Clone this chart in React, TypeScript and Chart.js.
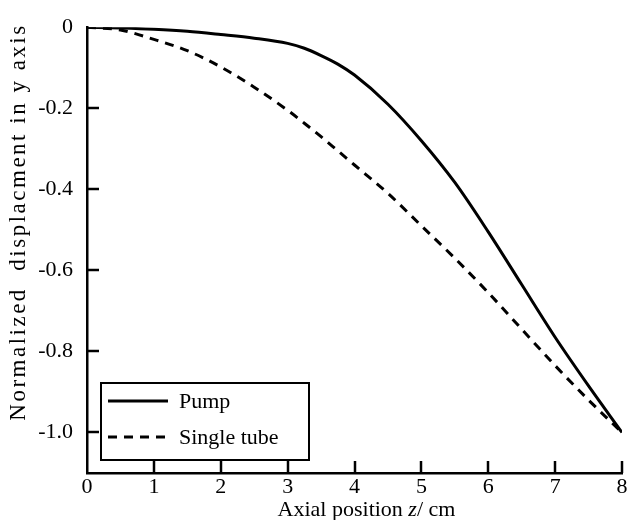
import React, { useEffect, useRef } from "react";
import { Chart, registerables } from "chart.js";

Chart.register(...registerables);

const zPositions = [0, 0.5, 1, 1.5, 2, 2.5, 3, 3.25, 3.5, 3.75, 4, 4.5, 5, 5.5, 6, 6.5, 7, 7.5, 8];
const pumpValues = [0, -0.002, -0.005, -0.01, -0.018, -0.027, -0.04, -0.052, -0.07, -0.091, -0.118, -0.19, -0.28, -0.383, -0.505, -0.635, -0.765, -0.885, -1.0];
const singleTubeValues = [0, -0.007, -0.03, -0.058, -0.098, -0.148, -0.205, -0.237, -0.27, -0.305, -0.34, -0.41, -0.49, -0.57, -0.655, -0.745, -0.835, -0.92, -1.0];
const seriesLabels = ["Pump", "Single tube"];
const yTickValues = [0, -0.2, -0.4, -0.6, -0.8, -1.0];
const xTickValues = [0, 1, 2, 3, 4, 5, 6, 7, 8];
const xTitleParts = [
  { text: "Axial position ", italic: false },
  { text: "z", italic: true },
  { text: "/ cm", italic: false },
];
const yTitle = "Normalized  displacment in y axis";

const FONT = "'Liberation Serif', 'Times New Roman', serif";
const FS = 22;

const decorPlugin = {
  id: "decor",
  afterDraw(chart: any) {
    const ctx = chart.ctx;
    const xs = chart.scales.x;
    const ys = chart.scales.y;
    const area = chart.chartArea;
    ctx.save();
    ctx.strokeStyle = "#000";
    ctx.lineWidth = 2.5;
    // inner ticks on y axis
    yTickValues.forEach((v) => {
      if (v === 0) return;
      const py = Math.round(ys.getPixelForValue(v));
      ctx.beginPath();
      ctx.moveTo(area.left, py);
      ctx.lineTo(area.left + 12, py);
      ctx.stroke();
    });
    // inner ticks on x axis
    xTickValues.forEach((v) => {
      if (v === 0) return;
      const px = Math.round(xs.getPixelForValue(v));
      ctx.beginPath();
      ctx.moveTo(px, area.bottom);
      ctx.lineTo(px, area.bottom - 12);
      ctx.stroke();
    });

    // x title with italic z
    ctx.fillStyle = "#000";
    ctx.textBaseline = "alphabetic";
    ctx.textAlign = "left";
    let total = 0;
    const widths = xTitleParts.map((p) => {
      ctx.font = `${p.italic ? "italic " : ""}${FS}px ${FONT}`;
      const w = ctx.measureText(p.text).width;
      total += w;
      return w;
    });
    let x = (area.left + area.right) / 2 + 12 - total / 2;
    const yBase = 516;
    xTitleParts.forEach((p, i) => {
      ctx.font = `${p.italic ? "italic " : ""}${FS}px ${FONT}`;
      ctx.fillText(p.text, x, yBase);
      x += widths[i];
    });

    // y title
    ctx.save();
    ctx.translate(25, 222);
    ctx.rotate(-Math.PI / 2);
    ctx.font = `23px ${FONT}`;
    (ctx as any).letterSpacing = "2.5px";
    ctx.textAlign = "center";
    ctx.textBaseline = "alphabetic";
    ctx.fillText(yTitle, 0, 0);
    ctx.restore();

    // legend
    const bx = 101, by = 383, bw = 208, bh = 77;
    ctx.lineWidth = 2;
    ctx.strokeRect(bx, by, bw, bh);
    const rows = [401, 437];
    chart.data.datasets.forEach((ds: any, i: number) => {
      ctx.beginPath();
      ctx.lineWidth = 3;
      ctx.setLineDash(ds.borderDash || []);
      ctx.moveTo(108, rows[i]);
      ctx.lineTo(168, rows[i]);
      ctx.stroke();
      ctx.setLineDash([]);
      ctx.font = `${FS}px ${FONT}`;
      ctx.textBaseline = "middle";
      ctx.textAlign = "left";
      ctx.fillText(ds.label, 179, rows[i] + 1);
    });
    ctx.restore();
  },
};

export default function App() {
  const canvasRef = useRef<HTMLCanvasElement | null>(null);

  useEffect(() => {
    if (!canvasRef.current) return;
    const chart = new Chart(canvasRef.current, {
      type: "line",
      data: {
        datasets: [
          {
            label: seriesLabels[0],
            data: zPositions.map((z, i) => ({ x: z, y: pumpValues[i] })),
            borderColor: "#000",
            borderWidth: 3,
            pointRadius: 0,
            cubicInterpolationMode: "monotone",
            fill: false,
          },
          {
            label: seriesLabels[1],
            data: zPositions.map((z, i) => ({ x: z, y: singleTubeValues[i] })),
            borderColor: "#000",
            borderWidth: 3,
            borderDash: [9, 7],
            pointRadius: 0,
            cubicInterpolationMode: "monotone",
            fill: false,
          },
        ],
      },
      options: {
        animation: false,
        responsive: false,
        maintainAspectRatio: false,
        layout: { padding: { top: 20, right: 8, left: 0, bottom: 0 } },
        plugins: {
          legend: { display: false },
          tooltip: { enabled: false },
        },
        scales: {
          x: {
            type: "linear",
            min: 0,
            max: 8,
            grid: { display: false, drawTicks: false },
            border: { display: true, color: "#000", width: 2.5 },
            afterBuildTicks: (scale: any) => {
              scale.ticks = xTickValues.map((v) => ({ value: v }));
            },
            afterFit: (scale: any) => {
              scale.height = 47;
            },
            ticks: {
              color: "#000",
              padding: 1,
              font: { family: FONT, size: FS },
              maxRotation: 0,
              autoSkip: false,
              callback: (v: any) => String(v),
            },
          },
          y: {
            type: "linear",
            min: -1.1,
            max: 0,
            grid: { display: false, drawTicks: false },
            border: { display: true, color: "#000", width: 2.5 },
            afterBuildTicks: (scale: any) => {
              scale.ticks = yTickValues.map((v) => ({ value: v }));
            },
            afterFit: (scale: any) => {
              scale.width = 87;
            },
            ticks: {
              color: "#000",
              padding: 14,
              font: { family: FONT, size: FS },
              autoSkip: false,
              callback: (v: any) => (v === 0 ? "0" : Number(v).toFixed(1)),
            },
          },
        },
      },
      plugins: [decorPlugin],
    } as any);
    return () => chart.destroy();
  }, []);

  return (
    <div style={{ position: "fixed", left: 0, top: 0, width: 630, height: 520, background: "#fff" }}>
      <canvas ref={canvasRef} width={630} height={520} style={{ width: 630, height: 520, display: "block" }} />
    </div>
  );
}
